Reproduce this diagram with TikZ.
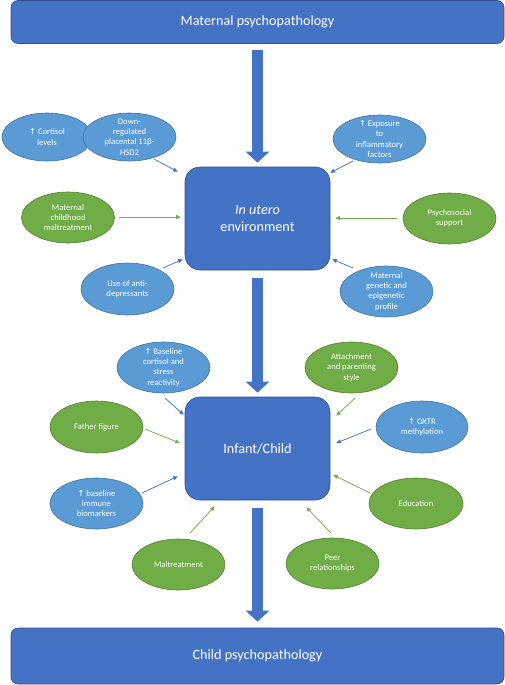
\documentclass[tikz,border=0pt]{standalone}
\usepackage{fontspec}
\setmainfont{Carlito}
\newfontfamily\symf{DejaVu Sans}
\usetikzlibrary{shapes.geometric,arrows.meta}
\definecolor{boxblue}{RGB}{68,114,196}
\definecolor{boxedge}{RGB}{47,82,143}
\definecolor{ellblue}{RGB}{91,155,213}
\definecolor{elledgeb}{RGB}{65,113,156}
\definecolor{ellgreen}{RGB}{112,173,71}
\definecolor{elledgeg}{RGB}{80,126,50}
\newcommand{\upar}{{\symf\scalebox{0.95}{↑}}}
\tikzset{
  bigbox/.style={rectangle, rounded corners=15pt, fill=boxblue, draw=boxedge, line width=0.6pt,
    minimum width=145pt, minimum height=103pt, inner sep=0pt, text=white, align=center,
    font=\fontsize{14.2}{17}\selectfont},
  bar/.style={rectangle, rounded corners=7pt, fill=boxblue, draw=boxedge, line width=0.6pt,
    minimum width=493pt, inner sep=0pt, text=white, font=\fontsize{14.2}{17}\selectfont},
  ell/.style={ellipse, inner sep=-10pt, minimum width=93pt, minimum height=51pt, text=white,
    align=center, line width=0.6pt, font=\fontsize{8.6}{10.3}\selectfont},
  bell/.style={ell, fill=ellblue, draw=elledgeb},
  gell/.style={ell, fill=ellgreen, draw=elledgeg},
  conn/.style={line width=0.7pt, -{Triangle[length=4.5pt,width=4pt]}},
  bconn/.style={conn, draw=boxblue, fill=boxblue},
  gconn/.style={conn, draw=ellgreen, fill=ellgreen},
  bigarrow/.style={draw=boxblue, line width=11.5pt, -{Triangle[length=11pt,width=23pt]}, fill=boxblue},
}
\begin{document}
\begin{tikzpicture}[x=1pt,y=-1pt]
\useasboundingbox (0,0) rectangle (505,685);
% main boxes
\node[bar, minimum height=43pt] (top) at (257.5,22) {Maternal psychopathology};
\node[bigbox] (env) at (257.5,218.5) {\textit{In utero}\\environment};
\node[bigbox] (inf) at (257.5,448.5) {Infant/Child};
\node[bar, minimum height=56pt] (bot) at (257.5,656) {Child psychopathology};
% big arrows
\draw[bigarrow] ([shift={(0,6)}]top.south) -- ([shift={(0,-4)}]env.north);
\draw[bigarrow] ([shift={(0,8)}]env.south) -- ([shift={(0,-4)}]inf.north);
\draw[bigarrow] ([shift={(0,8)}]inf.south) -- ([shift={(0,-6)}]bot.north);
% ellipses around in utero
\node[bell, minimum width=90pt, minimum height=48pt] (c1) at (47,137) {\upar{} Cortisol\\levels};
\node[bell, minimum height=48pt] (d1) at (129.5,137) {Down-\\regulated\\placental 11β-\\HSD2};
\node[gell] (mcm) at (68,217.5) {Maternal\\childhood\\maltreatment};
\node[bell, minimum height=52pt] (uad) at (127.5,289) {Use of anti-\\depressants};
\node[bell, minimum height=48pt] (exp) at (379.5,139) {\upar{} Exposure\\to\\inflammatory\\factors};
\node[gell] (psy) at (449.5,218.5) {Psychosocial\\support};
\node[bell] (mgep) at (386.5,291.5) {Maternal\\genetic and\\epigenetic\\profile};
% ellipses around infant
\node[bell] (bcs) at (163.5,367.5) {\upar{} Baseline\\cortisol and\\stress\\reactivity};
\node[gell, minimum height=52pt] (ff) at (96.5,427) {Father figure};
\node[bell] (bim) at (96.5,503.5) {\upar{} baseline\\immune\\biomarkers};
\node[gell] (mal) at (178.5,564.5) {Maltreatment};
\node[gell] (att) at (351.5,367.5) {Attachment\\and parenting\\style};
\node[bell, minimum width=92pt, minimum height=52pt] (oxtr) at (422,427) {\upar{} OXTR\\methylation};
\node[gell, minimum width=94pt] (edu) at (416,503.5) {Education};
\node[gell] (peer) at (332.5,563.5) {Peer\\relationships};
% connectors to in utero
\draw[bconn] ([shift={(24.5,22)}]d1.center) -- ([shift={(-7,5)}]env.north west);
\draw[gconn] ([shift={(51,-0.5)}]mcm.center) -- ([shift={(-4,-1.5)}]env.west);
\draw[bconn] ([shift={(35.5,-21)}]uad.center) -- ([shift={(-2,-11)}]env.south west);
\draw[bconn] ([shift={(-26.5,22)}]exp.center) -- ([shift={(0,6)}]env.north east);
\draw[gconn] ([shift={(-52.5,-0.5)}]psy.center) -- ([shift={(5,-0.5)}]env.east);
\draw[bconn] ([shift={(-33.5,-23.5)}]mgep.center) -- ([shift={(2,-11)}]env.south east);
% connectors to infant
\draw[bconn] ([shift={(1.5,30.5)}]bcs.center) -- ([shift={(-1,18)}]inf.north west);
\draw[gconn] ([shift={(48.5,2)}]ff.center) -- ([shift={(-5,-5.5)}]inf.west);
\draw[bconn] ([shift={(45.5,-10.5)}]bim.center) -- ([shift={(-7,-24)}]inf.south west);
\draw[gconn] ([shift={(11.5,-31.5)}]mal.center) -- ([shift={(30,6)}]inf.south west);
\draw[gconn] ([shift={(3.5,30.5)}]att.center) -- ([shift={(6,19)}]inf.north east);
\draw[bconn] ([shift={(-51,2)}]oxtr.center) -- ([shift={(6,-5.5)}]inf.east);
\draw[gconn] ([shift={(-46,-10.5)}]edu.center) -- ([shift={(3,26.5)}]inf.east);
\draw[gconn] ([shift={(-1.5,-30.5)}]peer.center) -- ([shift={(-24,7)}]inf.south east);
\end{tikzpicture}
\end{document}
